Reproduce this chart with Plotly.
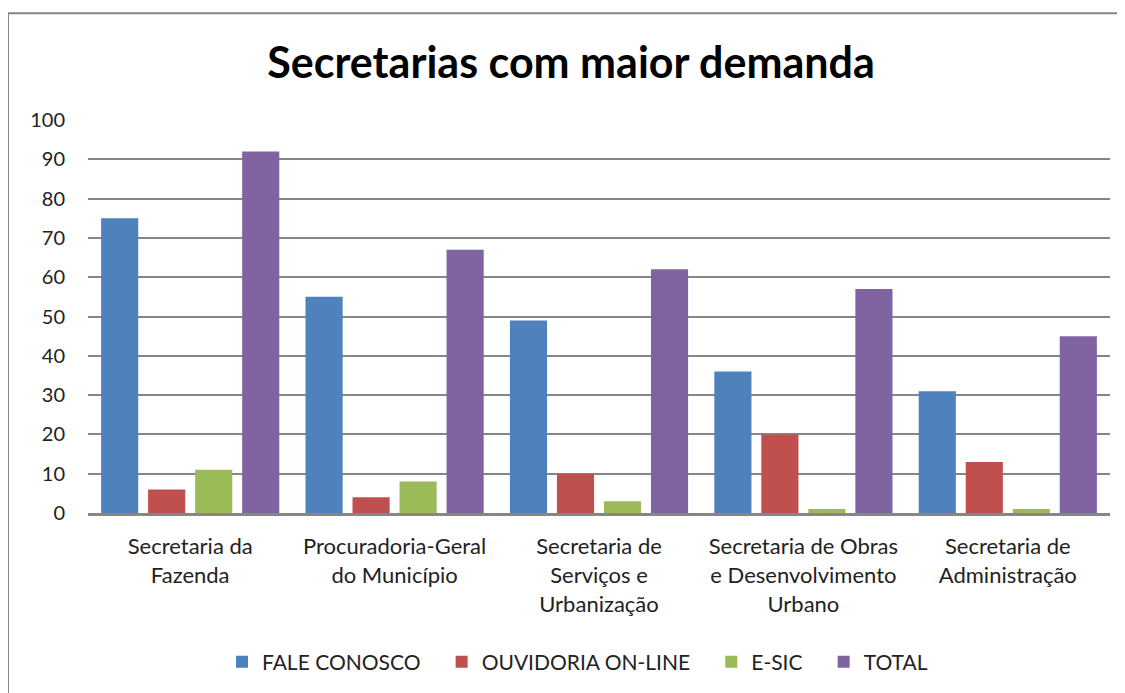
import plotly.graph_objects as go

categories = [
    "Secretaria da<br>Fazenda",
    "Procuradoria-Geral<br>do Município",
    "Secretaria de<br>Serviços e<br>Urbanização",
    "Secretaria de Obras<br>e Desenvolvimento<br>Urbano",
    "Secretaria de<br>Administração",
]
series_names = ["FALE CONOSCO", "OUVIDORIA ON-LINE", "E-SIC", "TOTAL"]
fale_conosco = [75, 55, 49, 36, 31]
ouvidoria = [6, 4, 10, 20, 13]
esic = [11, 8, 3, 1, 1]
total = [92, 67, 62, 57, 45]
colors = ["#4F81BD", "#C0504D", "#9BBB59", "#8064A2"]
y_ticks = [0, 10, 20, 30, 40, 50, 60, 70, 80, 90, 100]

OFF = 8  # page body margin
W, H = 1125 - OFF, 693 - OFF
L, R, T, B = 88 - OFF, 15, 120 - OFF, 179
pw, ph = W - L - R, H - T - B

def px_x(x):
    return (x - OFF - L) / pw

def px_y(y):
    return (H - B - (y - OFF)) / ph

PAD = "\u00a0" * 3
fig = go.Figure()
for name, vals, c in zip(series_names, [fale_conosco, ouvidoria, esic, total], colors):
    fig.add_trace(go.Bar(name=name + PAD, x=categories, y=vals,
                         marker=dict(color=c, line=dict(width=0))))

FONT = "Lato, Open Sans, sans-serif"
fig.update_layout(
    width=W, height=H,
    margin=dict(l=L, r=R, t=T, b=B),
    paper_bgcolor="white", plot_bgcolor="white",
    barmode="group", bargap=0.08, bargroupgap=0.21,
    title=dict(text="<b>Secretarias com maior demanda</b>", x=px_x(571), xanchor="center",
               xref="paper",
               y=1 - (63 - OFF) / H, yanchor="middle",
               font=dict(family=FONT, size=43, color="#000000")),
    font=dict(family=FONT, size=20, color="#222222"),
    showlegend=True,
    legend=dict(orientation="h", x=px_x(222), xanchor="left", y=px_y(662), yanchor="middle",
                font=dict(family=FONT, size=21, color="#222222"),
                itemwidth=30, traceorder="normal"),
    xaxis=dict(showgrid=False, showline=True, linecolor="#868686", linewidth=3,
               ticks="", ticklabelstandoff=12,
               tickfont=dict(family=FONT, size=22, color="#222222"),
               range=[-0.5, 4.5]),
    yaxis=dict(range=[0, 100], tickvals=y_ticks, showgrid=True, gridcolor="#868686",
               gridwidth=1.5, zeroline=False, showline=False, ticks="",
               ticklabelstandoff=22,
               tickfont=dict(family=FONT, size=20, color="#222222")),
    shapes=[dict(type="rect", xref="paper", yref="paper",
                 x0=px_x(8), x1=px_x(1140), y0=px_y(705), y1=px_y(13),
                 line=dict(color="#868686", width=2), fillcolor="rgba(0,0,0,0)", layer="below")],
)

fig.write_html("out.html")
